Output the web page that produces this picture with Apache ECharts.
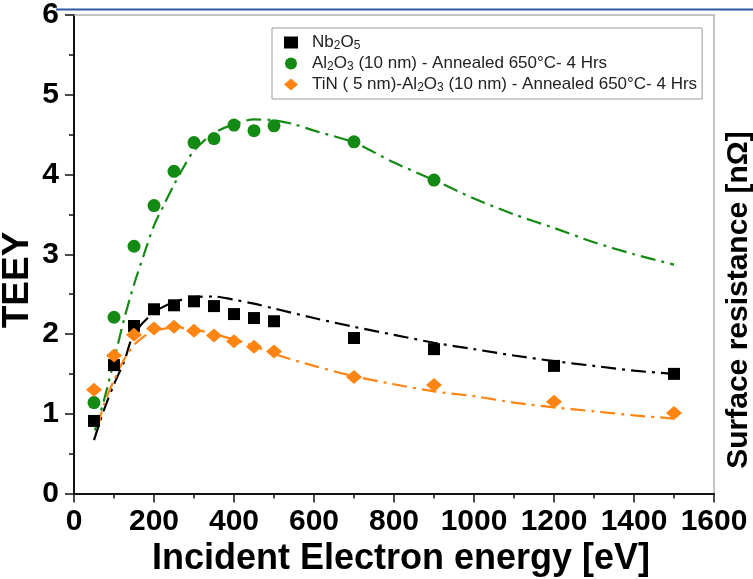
<!DOCTYPE html>
<html>
<head>
<meta charset="utf-8">
<script src="https://cdn.jsdelivr.net/npm/echarts@6/dist/echarts.min.js"></script>
<style>html,body{margin:0;padding:0;background:#fff;}#c{width:753px;height:579px;}</style>
</head>
<body>
<div id="c"></div>
<script>
// ---- data ----
const xTicks = [0, 200, 400, 600, 800, 1000, 1200, 1400, 1600];
const yTicks = [0, 1, 2, 3, 4, 5, 6];
const seriesNames = ['Nb2O5', 'Al2O3 (10 nm) - Annealed 650°C- 4 Hrs', 'TiN ( 5 nm)-Al2O3 (10 nm) - Annealed 650°C- 4 Hrs'];

const nbX = [50, 100, 150, 200, 250, 300, 350, 400, 450, 500, 700, 900, 1200, 1500];
const nbY = [0.91, 1.61, 2.10, 2.31, 2.36, 2.41, 2.35, 2.25, 2.20, 2.16, 1.95, 1.81, 1.60, 1.50];

const alX = [50, 100, 150, 200, 250, 300, 350, 400, 450, 500, 700, 900];
const alY = [1.14, 2.21, 3.10, 3.61, 4.04, 4.40, 4.45, 4.62, 4.55, 4.61, 4.41, 3.93];

const tinX = [50, 100, 150, 200, 250, 300, 350, 400, 450, 500, 700, 900, 1200, 1500];
const tinY = [1.30, 1.73, 1.99, 2.07, 2.09, 2.04, 1.98, 1.91, 1.84, 1.78, 1.46, 1.36, 1.15, 1.01];

const nbFitX = [50, 75, 100, 125, 150, 200, 250, 300, 350, 400, 450, 500, 600, 700, 800, 900, 1000, 1100, 1200, 1300, 1400, 1500];
const nbFitY = [0.67, 1.05, 1.37, 1.65, 2.00, 2.27, 2.40, 2.46, 2.47, 2.43, 2.38, 2.32, 2.20, 2.09, 1.99, 1.89, 1.81, 1.73, 1.66, 1.60, 1.54, 1.50];

const alFitX = [52, 75, 100, 125, 150, 175, 200, 225, 250, 275, 300, 350, 400, 450, 500, 550, 600, 700, 800, 900, 1000, 1100, 1200, 1300, 1400, 1500];
const alFitY = [0.79, 1.17, 1.67, 2.18, 2.62, 3.00, 3.36, 3.62, 3.87, 4.10, 4.30, 4.52, 4.63, 4.69, 4.68, 4.63, 4.55, 4.40, 4.15, 3.93, 3.70, 3.50, 3.33, 3.15, 3.00, 2.87];

const tinFitX = [60, 75, 100, 125, 150, 175, 200, 250, 300, 350, 400, 450, 500, 600, 700, 800, 900, 1000, 1100, 1200, 1300, 1400, 1500];
const tinFitY = [0.85, 1.12, 1.42, 1.68, 1.86, 1.97, 2.04, 2.08, 2.06, 2.00, 1.93, 1.85, 1.75, 1.60, 1.47, 1.37, 1.28, 1.22, 1.14, 1.08, 1.03, 0.98, 0.94];

const xTitle = 'Incident Electron energy [eV]';
const yTitle = 'TEEY';
const y2Title = 'Surface resistance [nΩ]';

// ---- chart ----
const zip = (xs, ys) => xs.map((x, i) => [x, ys[i]]);
const FONT = '"Liberation Sans", Arial, sans-serif';
const legendRich = {
  [seriesNames[0]]: '{n|Nb}{s|2}{n|O}{s|5}',
  [seriesNames[1]]: '{n|Al}{s|2}{n|O}{s|3}{n| (10 nm) - Annealed 650°C- 4 Hrs}',
  [seriesNames[2]]: '{n|TiN ( 5 nm)-Al}{s|2}{n|O}{s|3}{n| (10 nm) - Annealed 650°C- 4 Hrs}'
};
const dashDot = [15, 6, 3, 6];
const C_BLACK = '#000000', C_GREEN = '#138a13', C_ORANGE = '#ff8412';

const chart = echarts.init(document.getElementById('c'), null, {renderer: 'canvas'});
chart.setOption({
  backgroundColor: '#ffffff',
  animation: false,
  grid: {left: 74, right: 39, top: 14, bottom: 85.5},
  legend: {
    orient: 'vertical',
    left: 272, top: 28,
    padding: [6, 5, 5, 12],
    itemWidth: 14, itemHeight: 12, itemGap: 3,
    borderColor: '#9a9a9a', borderWidth: 1,
    data: [
      {name: seriesNames[0], icon: 'rect'},
      {name: seriesNames[1], icon: 'circle'},
      {name: seriesNames[2], icon: 'diamond'}
    ],
    formatter: name => legendRich[name],
    textStyle: {
      padding: [0, 0, 0, 9],
      rich: {
        n: {fontFamily: FONT, fontSize: 17, color: '#222', lineHeight: 18},
        s: {fontFamily: FONT, fontSize: 12, color: '#222', verticalAlign: 'bottom', padding: [7, 0, 0, 0]}
      }
    }
  },
  xAxis: [{
    type: 'value', min: xTicks[0], max: xTicks[xTicks.length - 1], interval: xTicks[1] - xTicks[0],
    axisLine: {show: true, onZero: false, lineStyle: {color: '#111', width: 2}},
    axisTick: {show: true, length: 9, lineStyle: {color: '#111', width: 1.5}},
    minorTick: {show: true, splitNumber: 2, length: 5, lineStyle: {color: '#111', width: 1.5}},
    splitLine: {show: false},
    axisLabel: {fontFamily: FONT, fontSize: 30, fontWeight: 'bold', color: '#000', margin: 13,
      formatter: v => String(v)}
  }, {
    type: 'value', position: 'top', min: xTicks[0], max: xTicks[xTicks.length - 1],
    axisLine: {show: true, onZero: false, lineStyle: {color: '#b0b0b0', width: 1.5}},
    axisTick: {show: false}, axisLabel: {show: false}, splitLine: {show: false}
  }],
  yAxis: [{
    type: 'value', min: yTicks[0], max: yTicks[yTicks.length - 1], interval: yTicks[1] - yTicks[0],
    axisLine: {show: true, onZero: false, lineStyle: {color: '#111', width: 2}},
    axisTick: {show: true, length: 9, lineStyle: {color: '#111', width: 1.5}},
    minorTick: {show: true, splitNumber: 2, length: 5, lineStyle: {color: '#111', width: 1.5}},
    splitLine: {show: false},
    axisLabel: {fontFamily: FONT, fontSize: 30, fontWeight: 'bold', color: '#000', margin: 15,
      formatter: v => String(v)}
  }, {
    type: 'value', position: 'right', min: yTicks[0], max: yTicks[yTicks.length - 1],
    axisLine: {show: true, onZero: false, lineStyle: {color: '#b0b0b0', width: 1.5}},
    axisTick: {show: false}, axisLabel: {show: false}, splitLine: {show: false}
  }],
  series: [
    {name: 'fitNb', type: 'line', data: zip(nbFitX, nbFitY), smooth: 0.3, showSymbol: false, z: 2,
      lineStyle: {color: C_BLACK, width: 2.2, type: dashDot}},
    {name: 'fitAl', type: 'line', data: zip(alFitX, alFitY), smooth: 0.3, showSymbol: false, z: 2,
      lineStyle: {color: C_GREEN, width: 2.2, type: dashDot}},
    {name: 'fitTiN', type: 'line', data: zip(tinFitX, tinFitY), smooth: 0.3, showSymbol: false, z: 2,
      lineStyle: {color: C_ORANGE, width: 2.2, type: dashDot}},
    {name: seriesNames[0], type: 'scatter', data: zip(nbX, nbY), symbol: 'rect', symbolSize: 12, z: 5,
      itemStyle: {color: C_BLACK, opacity: 1}},
    {name: seriesNames[1], type: 'scatter', data: zip(alX, alY), symbol: 'circle', symbolSize: 13, z: 5,
      itemStyle: {color: C_GREEN, opacity: 1}},
    {name: seriesNames[2], type: 'scatter', data: zip(tinX, tinY), symbol: 'diamond', symbolSize: [16, 14], z: 5,
      itemStyle: {color: C_ORANGE, opacity: 1}}
  ],
  graphic: [
    {type: 'line', shape: {x1: 56, y1: 9.5, x2: 753, y2: 9.5}, style: {stroke: '#2c5ba6', lineWidth: 2}, silent: true},
    {type: 'text', x: 18, y: 280, rotation: Math.PI / 2,
      style: {text: yTitle, font: 'bold 37px ' + FONT, fill: '#000', align: 'center', verticalAlign: 'middle'}},
    {type: 'text', x: 401, y: 559,
      style: {text: xTitle, font: 'bold 36px ' + FONT, fill: '#000', align: 'center', verticalAlign: 'middle'}},
    {type: 'text', x: 739, y: 300, rotation: Math.PI / 2,
      style: {text: y2Title, font: 'bold 30px ' + FONT, fill: '#000', align: 'center', verticalAlign: 'middle'}}
  ]
});
</script>
</body>
</html>
